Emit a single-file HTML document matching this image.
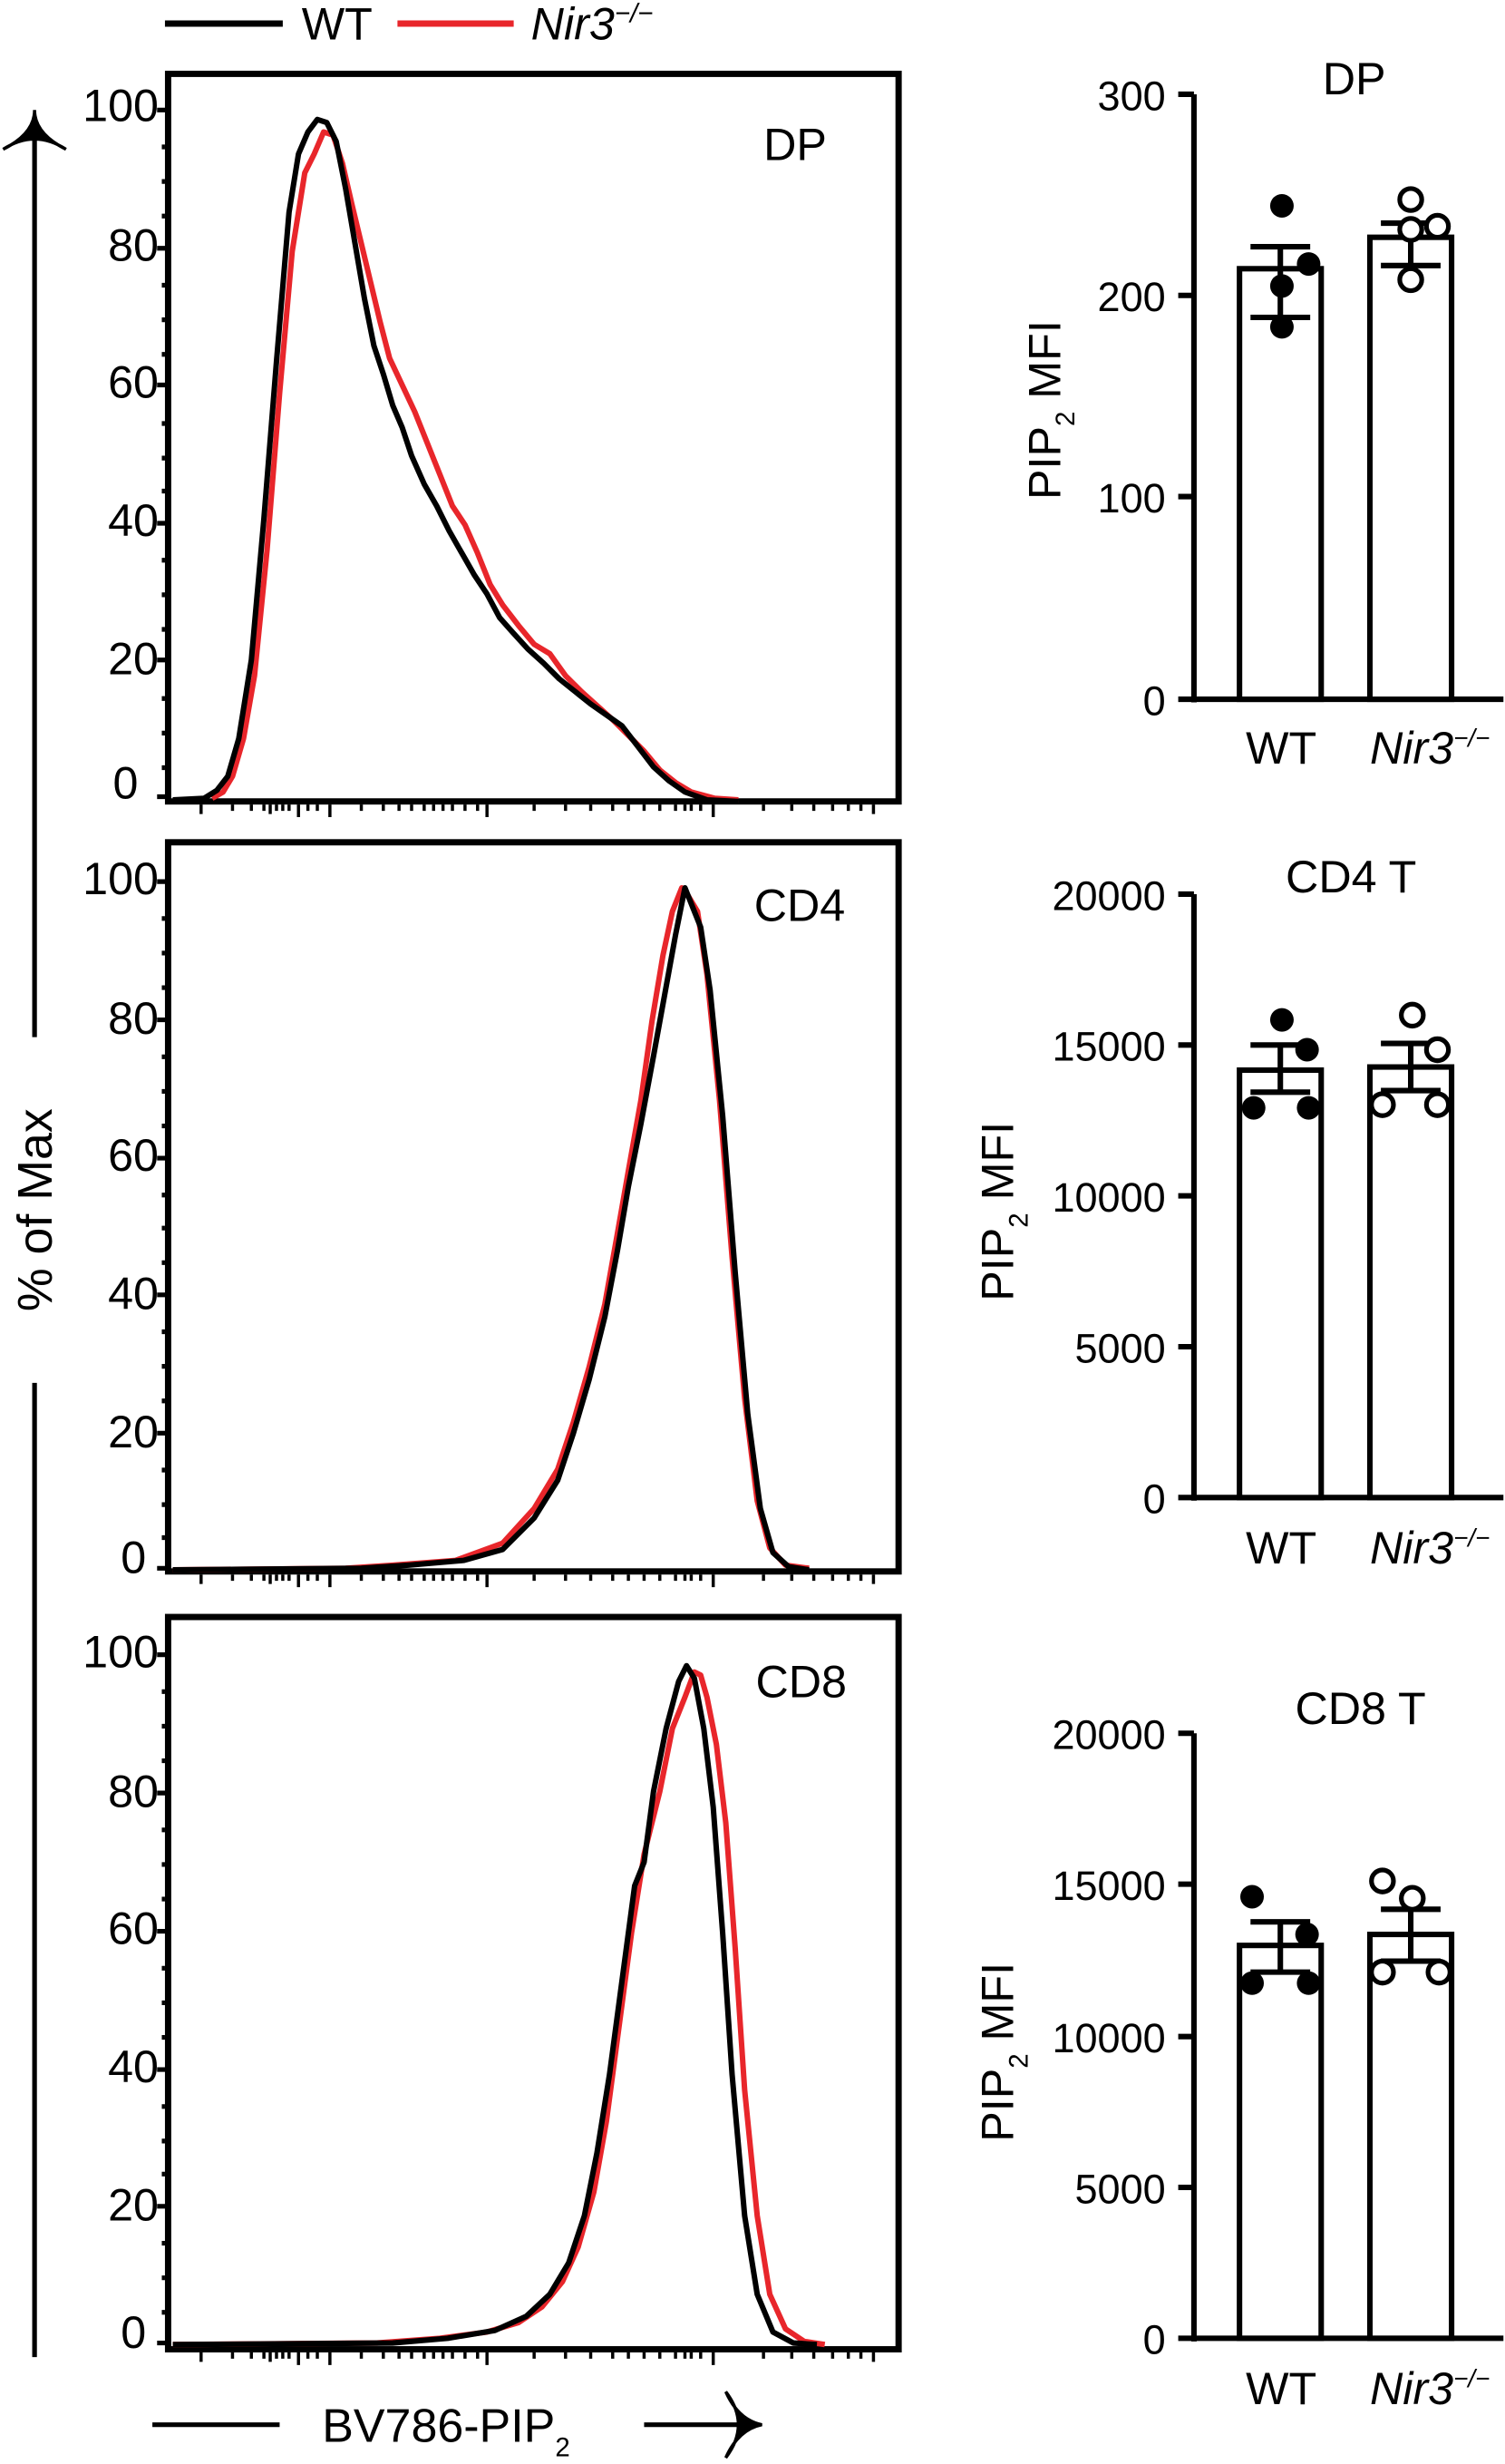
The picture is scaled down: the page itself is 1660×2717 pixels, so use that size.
<!DOCTYPE html>
<html><head><meta charset="utf-8"><style>html,body{margin:0;padding:0;background:#fff}svg{display:block}</style></head>
<body>
<svg width="1660" height="2717" viewBox="0 0 958 1568" xmlns="http://www.w3.org/2000/svg" font-family="Liberation Sans, sans-serif">
<!-- legend -->
<line x1="105" y1="15" x2="180" y2="15" stroke="#000" stroke-width="4"/>
<text x="192" y="25" font-size="29">WT</text>
<line x1="253" y1="15" x2="327" y2="15" stroke="#e8262b" stroke-width="4"/>
<text x="338" y="25" font-size="29" font-style="italic">Nir3<tspan font-size="17" dy="-11">−/−</tspan></text>

<!-- left axis arrow -->
<line x1="22" y1="1500" x2="22" y2="880" stroke="#000" stroke-width="3"/>
<line x1="22" y1="660" x2="22" y2="82" stroke="#000" stroke-width="3"/>
<path d="M2,95 Q22,85 22,70 Q22,85 42,95 Q22,82 2,95Z" fill="#000" stroke="#000" stroke-width="2"/>
<text transform="translate(33,770) rotate(-90)" text-anchor="middle" font-size="31">% of Max</text>

<!-- bottom axis label -->
<line x1="97" y1="1543" x2="178" y2="1543" stroke="#000" stroke-width="3"/>
<text x="205" y="1554" font-size="30">BV786-PIP<tspan font-size="17" dy="9">2</tspan></text>
<line x1="410" y1="1543" x2="478" y2="1543" stroke="#000" stroke-width="3"/>
<path d="M462,1522 Q470,1540 485,1543 Q470,1546 462,1564 Q478,1543 462,1522Z" fill="#000" stroke="#000" stroke-width="2"/>

<g fill="none">
<rect x="107" y="47" width="465" height="463" stroke="#000" stroke-width="4"/>
<rect x="107" y="536" width="465" height="464" stroke="#000" stroke-width="4"/>
<rect x="107" y="1029" width="465" height="466" stroke="#000" stroke-width="4"/>
</g>

<g font-size="29" text-anchor="end">
<text x="101" y="77">100</text><text x="101" y="166">80</text><text x="101" y="253">60</text><text x="101" y="341">40</text><text x="101" y="429">20</text><text x="88" y="508">0</text>
<text x="101" y="569">100</text><text x="101" y="658">80</text><text x="101" y="745">60</text><text x="101" y="833">40</text><text x="101" y="921">20</text><text x="93" y="1001">0</text>
<text x="101" y="1061">100</text><text x="101" y="1150">80</text><text x="101" y="1237">60</text><text x="101" y="1325">40</text><text x="101" y="1413">20</text><text x="93" y="1494">0</text>
</g>
<g font-size="29">
<text x="486" y="102">DP</text><text x="480" y="586">CD4</text><text x="481" y="1080">CD8</text>
</g>

<g stroke="#000" stroke-width="3">
<path d="M100,70H107M100,158H107M100,245H107M100,333H107M100,420H107M100,507H107"/>
<path d="M100,561H107M100,649H107M100,737H107M100,824H107M100,912H107M100,998H107"/>
<path d="M100,1053H107M100,1141H107M100,1229H107M100,1317H107M100,1404H107M100,1491H107"/>
</g>
<g stroke="#000" stroke-width="2">
<path d="M104,92v3M104,114v3M104,136v3M104,180v3M104,202v3M104,224v3M104,268v3M104,290v3M104,311v3M104,355v3M104,377v3M104,399v3M104,443v3M104,465v3M104,487v3"/>
<path d="M104,583v3M104,605v3M104,627v3M104,671v3M104,693v3M104,715v3M104,759v3M104,780v3M104,802v3M104,846v3M104,868v3M104,890v3M104,934v3M104,956v3M104,977v3"/>
<path d="M104,1075v3M104,1097v3M104,1119v3M104,1163v3M104,1185v3M104,1207v3M104,1251v3M104,1273v3M104,1295v3M104,1339v3M104,1361v3M104,1382v3M104,1426v3M104,1448v3M104,1470v3"/>
</g>
<g stroke="#000" stroke-width="2">
<path id="xt" d="M128,512v6M148,512v4M160,512v4M168,512v4M172,512v6M176,512v4M180,512v4M184,512v4M190,512v8M196,512v4M202,512v4M210,512v8M230,512v4M244,512v4M254,512v4M262,512v4M270,512v4M276,512v4M282,512v4M288,512v4M296,512v4M304,512v4M310,512v8M340,512v4M360,512v4M376,512v4M390,512v4M400,512v4M410,512v4M420,512v4M430,512v4M436,512v4M440,512v4M446,512v4M454,512v8M486,512v4M504,512v4M518,512v4M530,512v4M540,512v4M548,512v4M556,512v6"/>
<use href="#xt" y="490"/>
<use href="#xt" y="985"/>
</g>

<g fill="none" stroke-width="3.5" stroke-linejoin="round">
<polyline stroke="#e8262b" points="135,508 142,504 148,494 155,470 162,430 170,350 178,250 186,160 194,110 200,98 206,84 212,86 218,104 224,130 230,155 236,180 242,205 248,228 256,245 264,262 272,282 280,302 288,322 296,334 304,352 312,372 320,385 330,398 340,410 350,416 360,430 370,440 380,449 390,458 400,468 410,478 420,490 430,498 440,504 455,508 470,509"/>
<polyline stroke="#000" points="110,509 130,508 138,503 145,494 152,470 160,420 168,330 176,230 184,135 190,98 196,84 202,76 208,78 214,90 220,120 226,155 232,190 238,220 244,238 250,258 256,272 262,290 270,308 278,322 286,338 294,352 302,366 310,378 318,393 326,402 336,413 346,422 356,432 366,440 376,448 386,455 396,462 406,475 416,488 426,497 436,504 450,509 470,510"/>
</g>
<g fill="none" stroke-width="3.5" stroke-linejoin="round">
<polyline stroke="#e8262b" points="110,999 220,998 250,996 290,993 320,982 340,960 355,935 365,905 375,870 385,830 393,785 400,745 408,700 415,650 422,608 428,580 434,565 438,570 444,580 450,620 458,700 466,800 474,890 482,955 490,985 500,996 515,998"/>
<polyline stroke="#000" points="110,999 230,998 260,996 295,993 320,986 340,966 355,942 365,912 375,878 385,838 393,796 400,755 408,715 416,672 424,628 430,595 436,565 440,575 446,590 452,630 460,710 468,810 476,900 484,960 492,988 502,997 515,999"/>
</g>
<g fill="none" stroke-width="3.5" stroke-linejoin="round">
<polyline stroke="#e8262b" points="110,1492 240,1491 280,1488 310,1484 330,1478 345,1468 358,1452 368,1430 378,1395 386,1350 394,1290 402,1230 410,1180 420,1140 428,1100 436,1080 442,1064 446,1066 450,1080 456,1110 462,1160 468,1240 474,1330 482,1410 490,1460 500,1482 512,1490 525,1492"/>
<polyline stroke="#000" points="110,1492 250,1491 285,1488 315,1483 335,1474 350,1460 362,1440 372,1410 380,1370 388,1320 396,1260 404,1200 410,1185 416,1140 424,1100 432,1070 437,1060 442,1068 448,1100 454,1150 460,1230 466,1320 474,1410 482,1460 492,1484 505,1491 520,1492"/>
</g>

<g stroke="#000" stroke-width="3.5" fill="none">
<path d="M760,60V447M760,445H957M750,60H760M750,188H760M750,316H760M750,445H760"/>
<rect x="789" y="171" width="52" height="274" fill="#fff"/>
<rect x="872" y="151" width="52" height="294" fill="#fff"/>
<path d="M815,157V202M796,157H834M796,202H834"/>
<path d="M898,142V169M879,142H917M879,169H917"/>
<path d="M760,569V955M760,953H957M750,569H760M750,665H760M750,761H760M750,857H760M750,953H760"/>
<rect x="789" y="681" width="52" height="272" fill="#fff"/>
<rect x="872" y="679" width="52" height="274" fill="#fff"/>
<path d="M815,665V695M796,665H834M796,695H834"/>
<path d="M898,664V694M879,664H917M879,694H917"/>
<path d="M760,1103V1490M760,1488H957M750,1103H760M750,1199H760M750,1296H760M750,1392H760M750,1488H760"/>
<rect x="789" y="1238" width="52" height="250" fill="#fff"/>
<rect x="872" y="1231" width="52" height="257" fill="#fff"/>
<path d="M815,1223V1255M796,1223H834M796,1255H834"/>
<path d="M898,1215V1248M879,1215H917M879,1248H917"/>
</g>
<g fill="#000">
<circle cx="816" cy="131" r="7.5"/><circle cx="833" cy="168" r="7.5"/><circle cx="816" cy="182" r="7.5"/><circle cx="816" cy="208" r="7.5"/>
<circle cx="816" cy="649" r="7.5"/><circle cx="832" cy="668" r="7.5"/><circle cx="798" cy="705" r="7.5"/><circle cx="833" cy="705" r="7.5"/>
<circle cx="797" cy="1207" r="7.5"/><circle cx="832" cy="1231" r="7.5"/><circle cx="797" cy="1262" r="7.5"/><circle cx="833" cy="1262" r="7.5"/>
</g>
<g fill="#fff" stroke="#000" stroke-width="3">
<circle cx="898" cy="127" r="7"/><circle cx="898" cy="146" r="7"/><circle cx="915" cy="144" r="7"/><circle cx="898" cy="178" r="7"/>
<circle cx="899" cy="646" r="7"/><circle cx="915" cy="668" r="7"/><circle cx="880" cy="703" r="7"/><circle cx="915" cy="703" r="7"/>
<circle cx="880" cy="1197" r="7"/><circle cx="899" cy="1208" r="7"/><circle cx="880" cy="1255" r="7"/><circle cx="916" cy="1255" r="7"/>
</g>
<g font-size="26" text-anchor="end">
<text x="742" y="70">300</text><text x="742" y="198">200</text><text x="742" y="326">100</text><text x="742" y="455">0</text>
<text x="742" y="579">20000</text><text x="742" y="675">15000</text><text x="742" y="771">10000</text><text x="742" y="867">5000</text><text x="742" y="963">0</text>
<text x="742" y="1113">20000</text><text x="742" y="1209">15000</text><text x="742" y="1306">10000</text><text x="742" y="1402">5000</text><text x="742" y="1498">0</text>
</g>
<g font-size="29" text-anchor="middle">
<text x="862" y="60">DP</text><text x="860" y="568">CD4 T</text><text x="866" y="1097">CD8 T</text>
</g>
<g font-size="29">
<text x="793" y="486">WT</text><text x="872" y="486" font-style="italic">Nir3<tspan font-size="16" dy="-11">−/−</tspan></text>
<text x="793" y="995">WT</text><text x="872" y="995" font-style="italic">Nir3<tspan font-size="16" dy="-11">−/−</tspan></text>
<text x="793" y="1530">WT</text><text x="872" y="1530" font-style="italic">Nir3<tspan font-size="16" dy="-11">−/−</tspan></text>
</g>
<g font-size="29">
<text transform="translate(675,318) rotate(-90)">PIP<tspan font-size="17" dy="9">2</tspan><tspan dy="-9"> MFI</tspan></text>
<text transform="translate(645,828) rotate(-90)">PIP<tspan font-size="17" dy="9">2</tspan><tspan dy="-9"> MFI</tspan></text>
<text transform="translate(645,1363) rotate(-90)">PIP<tspan font-size="17" dy="9">2</tspan><tspan dy="-9"> MFI</tspan></text>
</g>
</svg>
</body></html>
